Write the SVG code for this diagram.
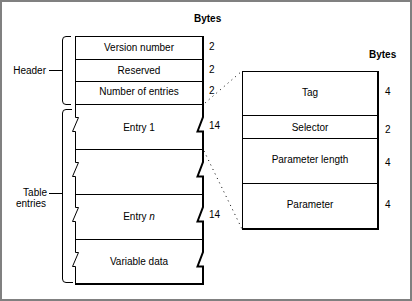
<svg xmlns="http://www.w3.org/2000/svg" width="412" height="301" viewBox="0 0 412 301">
<style>
text{font-family:"Liberation Sans",Arial,sans-serif;font-size:10px;fill:#000}
.c{text-anchor:middle}
.e{text-anchor:end}
.b{font-weight:bold}
.ln{stroke:#000;stroke-width:1;fill:none}
.th{stroke:#000;stroke-width:2;fill:none}
.dot{stroke:#000;stroke-width:1;stroke-dasharray:1 4;fill:none}
</style>
<rect x="1" y="1" width="410" height="299" fill="#fff" stroke="#808080" stroke-width="2"/>
<text class="b" x="194" y="22">Bytes</text>
<text class="b" x="369" y="58">Bytes</text>
<g id="header-brace">
<path class="ln" d="M71,36.5 H66 Q62.5,36.5 62.5,40 V101 Q62.5,104.5 66,104.5 H71"/>
<line class="ln" x1="49" y1="70.5" x2="62.5" y2="70.5"/>
<text class="e" x="46" y="74">Header</text>
</g>
<g id="table-brace">
<path class="ln" d="M72,109.5 H66 Q62.5,109.5 62.5,113 V279 Q62.5,282.5 66,282.5 H73"/>
<line class="ln" x1="49" y1="193.5" x2="62.5" y2="193.5"/>
<text class="e" x="47" y="196">Table</text>
<text class="e" x="46" y="207">entries</text>
</g>
<g id="left-table">
<line class="ln" x1="75" y1="36.5" x2="203" y2="36.5"/>
<path class="ln" d="M75.5,36 V117.5 H78.5 L72.5,131.5 H75.5 V162.5 H78.5 L72.5,176.5 H75.5 V207.5 H78.5 L72.5,221.5 H75.5 V252.5 H78.5 L72.5,266.5 H75.5 V284"/>
<path class="th" d="M203,36 V117 L197.5,131.5 H203 V162 L197.5,176.5 H203 V207 L197.5,221.5 H203 V252 L197.5,266.5 H203 V285"/>
<line class="th" x1="75" y1="284" x2="204" y2="284"/>
<line class="ln" x1="75" y1="59.5" x2="203" y2="59.5"/>
<line class="ln" x1="75" y1="81.5" x2="203" y2="81.5"/>
<line class="ln" x1="75" y1="104.5" x2="203" y2="104.5"/>
<line class="ln" x1="75" y1="149.5" x2="203" y2="149.5"/>
<line class="ln" x1="75" y1="194.5" x2="203" y2="194.5"/>
<line class="ln" x1="75" y1="239.5" x2="203" y2="239.5"/>
<text class="c" x="139" y="51">Version number</text>
<text class="c" x="139" y="74">Reserved</text>
<text class="c" x="139" y="95">Number of entries</text>
<text class="c" x="139" y="131">Entry 1</text>
<text class="c" x="139" y="220">Entry <tspan font-style="italic">n</tspan></text>
<text class="c" x="139" y="265">Variable data</text>
<text x="209" y="50">2</text>
<text x="209" y="73">2</text>
<text x="209" y="94">2</text>
<text x="209" y="129">14</text>
<text x="209" y="218">14</text>
</g>
<g id="right-table">
<rect class="ln" x="242.5" y="71.5" width="135" height="157"/>
<line class="th" x1="378" y1="71" x2="378" y2="230"/>
<line class="th" x1="242" y1="229" x2="379" y2="229"/>
<line class="ln" x1="242" y1="115.5" x2="378" y2="115.5"/>
<line class="ln" x1="242" y1="138.5" x2="378" y2="138.5"/>
<line class="ln" x1="242" y1="183.5" x2="378" y2="183.5"/>
<text class="c" x="310" y="96">Tag</text>
<text class="c" x="310" y="131">Selector</text>
<text class="c" x="310" y="163">Parameter length</text>
<text class="c" x="310" y="208">Parameter</text>
<text x="385" y="95">4</text>
<text x="385" y="133">2</text>
<text x="385" y="166">4</text>
<text x="385" y="208">4</text>
</g>
<g id="connectors">
<line class="dot" x1="205" y1="103" x2="242" y2="71"/>
<line class="dot" x1="204" y1="151" x2="242" y2="229"/>
</g>
</svg>
